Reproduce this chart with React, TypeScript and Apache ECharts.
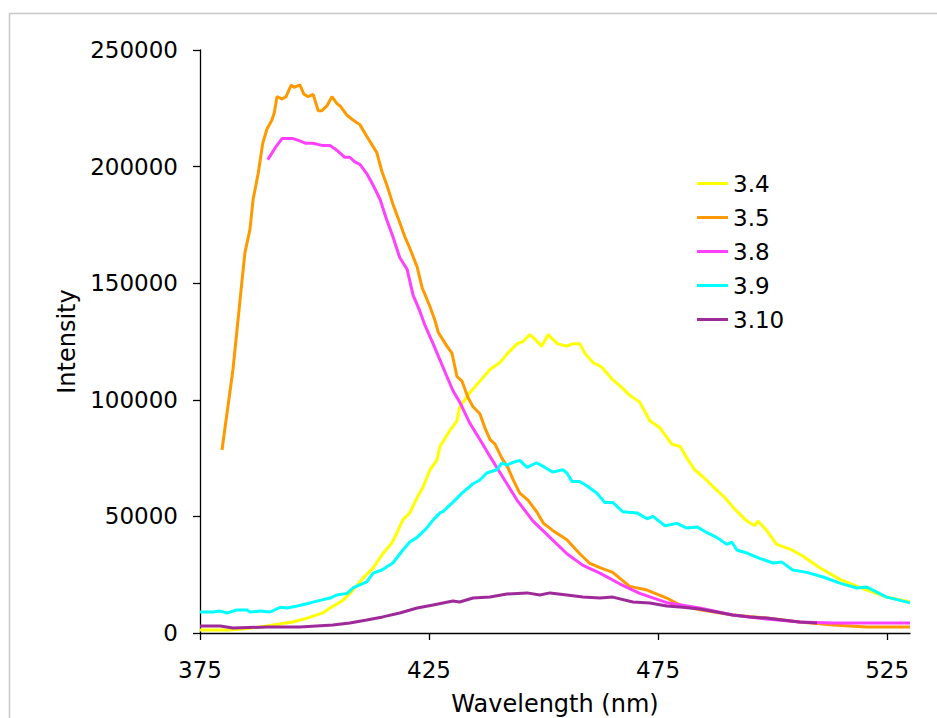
import React, { useEffect, useRef } from "react";
import * as echarts from "echarts";

const seriesNames = ["3.4", "3.5", "3.8", "3.9", "3.10"];
const seriesColors = ["#FFFF00", "#FF9900", "#FF40FF", "#00FFFF", "#9E2A9A"];
const xTicks = [375, 425, 475, 525];

// [wavelength (nm), intensity]
const s34: [number, number][] = [
  [375, 1300], [381.5, 1300], [385.9, 2000], [390.9, 3400], [395.3, 4700], [398.4, 6400],
  [401.8, 8600], [403.4, 10700], [406.2, 14000], [408.4, 18400], [410.6, 23600], [412.8, 27900],
  [414.9, 34000], [416.9, 38600], [418.0, 43000], [419.3, 48500], [420.8, 51500], [422.4, 58000],
  [423.7, 62600], [425.2, 70000], [426.7, 74000], [427.4, 80000], [429.6, 87000], [431.1, 91000],
  [431.7, 97000], [433.9, 103000], [436.1, 108000], [438.3, 113000], [440.5, 116000], [442.2, 120000],
  [444.2, 124000], [445.5, 125000], [447.0, 128000], [448.1, 126000], [449.6, 123000], [451.0, 128000],
  [452.0, 126000], [453.1, 124000], [455.1, 123000], [456.4, 124000], [457.9, 124000], [459.0, 120000],
  [460.8, 116000], [462.7, 114000], [464.9, 109000], [466.7, 106000], [468.8, 102000], [471.0, 99000],
  [473.2, 91000], [475.4, 88000], [478.0, 81000], [479.8, 80000], [481.3, 75000], [483.0, 70000],
  [484.8, 67000], [487.4, 62000], [489.6, 58000], [491.8, 53000], [494.4, 48000], [496.1, 46000],
  [496.8, 48000], [498.7, 44000], [500.9, 38000], [503.8, 36000], [506.6, 33000], [510.3, 28000],
  [514.7, 23000], [519.7, 19000], [524.9, 15400], [530, 13300],
];

const s35: [number, number][] = [
  [379.8, 78500], [382.2, 113000], [383.7, 142000], [384.8, 163000], [385.9, 173000], [386.6, 186000],
  [387.7, 197000], [388.7, 210000], [389.6, 216000], [390.7, 220000], [391.2, 223000], [391.8, 230000],
  [392.9, 229000], [393.8, 230000], [394.9, 235000], [395.5, 234000], [396.8, 235000], [397.7, 231000],
  [398.6, 230000], [399.7, 231000], [400.8, 224000], [401.6, 224000], [402.7, 226000], [403.8, 230000],
  [404.9, 227000], [405.6, 226000], [407.1, 222000], [408.4, 220000], [409.9, 218000], [411.4, 213000],
  [413.6, 206000], [414.7, 198000], [415.8, 192000], [417.1, 184000], [418.6, 176000], [419.7, 170000],
  [420.8, 165000], [422.4, 157000], [423.5, 148000], [425.2, 140000], [426.3, 134000], [427.0, 129000],
  [428.9, 123000], [430.0, 120000], [431.1, 110000], [432.2, 108000], [433.5, 101000], [434.6, 97000],
  [436.1, 94000], [437.2, 88000], [438.3, 83000], [439.4, 81000], [440.9, 75000], [442.2, 71000],
  [443.3, 66000], [444.8, 60000], [446.6, 57000], [448.5, 52000], [450.0, 47000], [452.0, 44000],
  [455.1, 40000], [457.9, 34000], [460.0, 30000], [462.3, 28000], [465.1, 26000], [468.8, 20000],
  [472.6, 18400], [476.9, 15000], [479.8, 12000], [484.1, 10000], [491.3, 7700], [498.7, 6400],
  [505.9, 4700], [513.2, 3400], [520.6, 2600], [530, 2600],
];

const s38: [number, number][] = [
  [389.8, 203000], [391.4, 208000], [392.9, 212000], [395.3, 212000], [396.8, 211000], [398.1, 210000],
  [399.7, 210000], [401.8, 209000], [403.4, 209000], [404.9, 207000], [406.6, 204000], [407.7, 204000],
  [408.8, 202000], [409.9, 201000], [411.4, 197000], [412.8, 192000], [414.3, 186000], [415.8, 177000],
  [417.1, 170000], [418.6, 161000], [420.2, 156000], [421.5, 145000], [423.0, 138000], [424.1, 132000],
  [425.9, 124000], [427.4, 117000], [428.9, 110000], [430.2, 104000], [431.7, 99000], [433.9, 90000],
  [436.1, 83000], [437.6, 78000], [439.8, 71000], [442.0, 64000], [444.2, 57000], [447.7, 48000],
  [451.4, 41000], [455.1, 34000], [458.6, 29000], [462.3, 25700], [466.7, 21000], [471.0, 17000],
  [476.9, 13000], [484.1, 10700], [491.3, 7700], [498.7, 6000], [505.9, 4700], [513.2, 4300],
  [520.6, 4300], [530, 4300],
];

const s39: [number, number][] = [
  [375, 9000], [377.8, 9000], [379.4, 9400], [380.9, 8600], [383.1, 9900], [385.3, 9900],
  [385.9, 9000], [388.1, 9400], [390.3, 9000], [392.5, 11000], [394.0, 10700], [396.2, 11600],
  [399.0, 12900], [401.2, 14000], [403.4, 15000], [404.9, 16300], [407.1, 17000], [408.4, 19300],
  [411.4, 21900], [412.8, 25700], [414.7, 27000], [417.1, 30000], [419.3, 35600], [420.8, 39000],
  [422.4, 41000], [424.5, 45000], [425.9, 48500], [427.4, 51500], [428.0, 52000], [430.2, 56000],
  [432.2, 60000], [434.6, 64000], [436.1, 65600], [437.6, 68600], [439.8, 70000], [440.9, 73000],
  [442.0, 72000], [443.1, 73000], [444.8, 74000], [446.4, 71000], [448.5, 73000], [450.3, 71000],
  [452.0, 69000], [454.2, 70000], [455.1, 68600], [456.2, 65000], [457.9, 65000], [459.5, 63000],
  [461.6, 60000], [463.4, 56000], [465.1, 56000], [467.3, 52000], [470.4, 51500], [472.6, 49000],
  [473.9, 50000], [476.5, 46000], [479.1, 47000], [481.3, 45000], [483.5, 45500], [485.7, 43000],
  [487.8, 41000], [490.0, 38000], [491.1, 39000], [492.2, 35600], [494.4, 34300], [497.2, 32000],
  [500.1, 30000], [502.0, 30400], [504.4, 27000], [507.5, 26000], [511.0, 24000], [514.7, 21400],
  [518.4, 19300], [520.6, 19700], [524.9, 15400], [527.8, 14000], [530, 12900],
];

const s310: [number, number][] = [
  [375, 3000], [379.4, 3000], [382.2, 2100], [389.6, 2600], [396.8, 2600], [404.0, 3400],
  [407.7, 4300], [411.4, 5600], [414.9, 6900], [418.6, 8600], [422.4, 10700], [425.9, 12000],
  [430.2, 13700], [431.7, 13300], [434.6, 15000], [438.3, 15400], [442.0, 16700], [446.4, 17200],
  [449.2, 16300], [451.4, 17200], [455.1, 16300], [458.6, 15400], [462.3, 15000], [465.1, 15400],
  [469.5, 13300], [473.2, 12900], [476.9, 11600], [480.4, 11000], [484.1, 10300], [487.8, 9000],
  [491.3, 7700], [495.0, 6900], [498.7, 6400], [502.2, 5600], [505.9, 4700], [509.7, 4300],
];

const seriesData = [s34, s35, s38, s39, s310];
const FONT = "DejaVu Sans";

export default function App() {
  const ref = useRef<HTMLDivElement>(null);
  useEffect(() => {
    if (!ref.current) return;
    const chart = echarts.init(ref.current, null, { renderer: "svg" });
    chart.setOption({
      animation: false,
      backgroundColor: "#ffffff",
      graphic: [
        {
          type: "rect",
          shape: { x: 9.5, y: 13.5, width: 1000, height: 1000 },
          style: { fill: "none", stroke: "#c8c8c8", lineWidth: 1.5 },
          silent: true,
        },
      ],
      grid: { left: 200, right: 27, top: 50, bottom: 85, containLabel: false, outerBoundsMode: "none" },
      legend: {
        orient: "vertical",
        left: 692,
        top: 167,
        icon: "rect",
        itemWidth: 31,
        itemHeight: 3,
        itemGap: 11,
        data: seriesNames,
        textStyle: { fontFamily: FONT, fontSize: 23, color: "#000", lineHeight: 23 },
      },
      xAxis: {
        type: "value",
        min: 375,
        max: 530,
        name: "Wavelength (nm)",
        nameLocation: "middle",
        nameGap: 59,
        nameTextStyle: { fontFamily: FONT, fontSize: 24, color: "#000" },
        axisLine: { show: true, lineStyle: { color: "#000", width: 1.3 } },
        axisTick: { show: true, length: 7, lineStyle: { color: "#000", width: 1.3 }, customValues: xTicks },
        axisLabel: { fontFamily: FONT, fontSize: 23, color: "#000", margin: 25, customValues: xTicks },
        splitLine: { show: false },
      },
      yAxis: {
        type: "value",
        min: 0,
        max: 250000,
        interval: 50000,
        name: "Intensity",
        nameLocation: "middle",
        nameGap: 108,
        nameTextStyle: { fontFamily: FONT, fontSize: 24, color: "#000" },
        axisLine: { show: true, lineStyle: { color: "#000", width: 1.3 } },
        axisTick: { show: true, length: 7, lineStyle: { color: "#000", width: 1.3 } },
        axisLabel: {
          fontFamily: FONT,
          fontSize: 23,
          color: "#000",
          margin: 22,
          formatter: (v: number) => String(v),
        },
        splitLine: { show: false },
      },
      series: seriesNames.map((name, i) => ({
        name,
        type: "line",
        data: seriesData[i],
        symbol: "none",
        showSymbol: false,
        color: seriesColors[i],
        itemStyle: { color: seriesColors[i] },
        lineStyle: { color: seriesColors[i], width: 3 },
      })),
    });
    return () => chart.dispose();
  }, []);
  return (
    <div
      ref={ref}
      style={{ position: "fixed", left: 0, top: 0, width: 937, height: 718 }}
    />
  );
}
